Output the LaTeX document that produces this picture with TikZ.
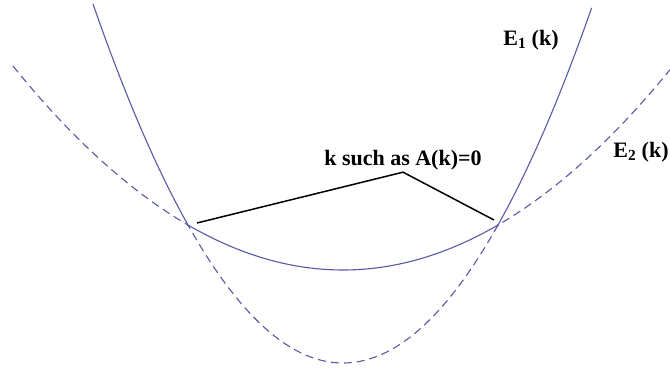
\documentclass[tikz,border=0pt]{standalone}
\usepackage{fontspec}
\setmainfont{Liberation Serif}
\definecolor{bandblue}{RGB}{88,88,168}
\tikzset{band/.style={line width=1.1pt,color=bandblue},lbl/.style={font=\fontsize{22}{26}\selectfont\bfseries,inner sep=2pt},pointer/.style={line width=1.5pt}}

\begin{document}
\begin{tikzpicture}[x=100pt,y=100pt]
\useasboundingbox (-3.43,0) rectangle (3.27,3.69);
% upper and lower sheets
\draw[band,domain=-2.5:2.49,samples=300,variable=\x] plot (\x,{max(.06+.5744*\x*\x,.99+.1873*\x*\x)});
\draw[band,dash pattern=on 8pt off 5pt,domain=-3.3:3.27,samples=300,variable=\x] plot (\x,{min(.06+.5744*\x*\x,.99+.1873*\x*\x)});
\node[lbl] (e1) at (1.88,3.29) {E\textsubscript{1} (k)};
\node[lbl] (e2) at (2.98,2.17) {E\textsubscript{2} (k)};
\node[lbl] (cond) at (.60,2.09) {k such as A(k)=0};
\coordinate (c1) at (-1.46,1.46);\coordinate (c2) at (1.51,1.49);
\draw[pointer] (c1) -- (cond.south) -- (c2);
\end{tikzpicture}
\end{document}
